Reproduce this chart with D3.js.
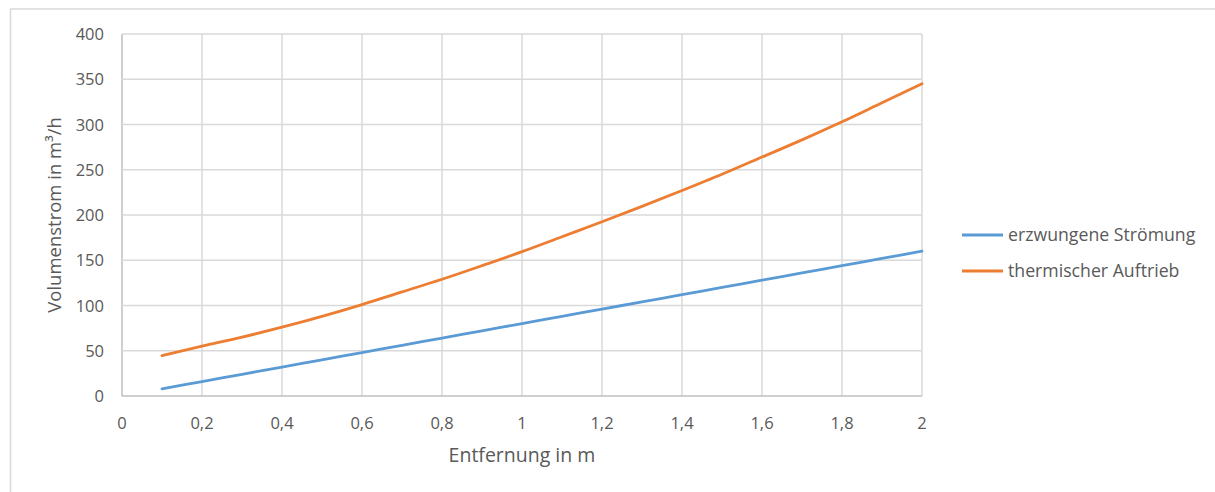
<!DOCTYPE html>
<html><head><meta charset="utf-8">
<script src="https://cdn.jsdelivr.net/npm/d3@7"></script>
<style>body{margin:0;background:#fff}svg{display:block}text{font-family:"Open Sans",Lato,sans-serif;fill:#595959}</style>
</head><body><svg id="c" width="1215" height="492"></svg>
<script>
const xValues = [0.1,0.2,0.3,0.4,0.5,0.6,0.7,0.8,0.9,1.0,1.1,1.2,1.3,1.4,1.5,1.6,1.7,1.8,1.9,2.0];
const forced = [8,16,24,32,40,48,56,64,72,80,88,96,104,112,120,128,136,144,152,160];
const thermal = [44.5,55,65,76,88,101,115,129,144,159.5,176,192.5,209.5,227,245,264,283,303,324,345];
const seriesNames = ["erzwungene Strömung","thermischer Auftrieb"];
const xTicks = [0,0.2,0.4,0.6,0.8,1,1.2,1.4,1.6,1.8,2];
const yTicks = [0,50,100,150,200,250,300,350,400];
const xTitle = "Entfernung in m";
const yTitle = "Volumenstrom in m³/h";
const colors = ["#5b9bd5","#ed7d31"];

const svg = d3.select("#c");
svg.append("rect").attr("x",10.5).attr("y",9).attr("width",1300).attr("height",600)
  .attr("fill","none").attr("stroke","#d9d9d9").attr("stroke-width",1.5);

const L=122,R=922,T=34,B=396;
const x = d3.scaleLinear().domain([0,2]).range([L,R]);
const y = d3.scaleLinear().domain([0,400]).range([B,T]);

const g = svg.append("g");
g.selectAll(".vg").data(xTicks).join("line").attr("x1",d=>x(d)).attr("x2",d=>x(d)).attr("y1",T).attr("y2",B)
  .attr("stroke",(d,i)=>i===0?"#bfbfbf":"#d9d9d9").attr("stroke-width",1.5);
g.selectAll(".hg").data(yTicks).join("line").attr("x1",L).attr("x2",R).attr("y1",d=>y(d)).attr("y2",d=>y(d))
  .attr("stroke",(d,i)=>i===0?"#bfbfbf":"#d9d9d9").attr("stroke-width",1.5);

const fmt = d=>String(+d.toFixed(1)).replace(".",",");
g.selectAll(".yt").data(yTicks).join("text").attr("x",L-18).attr("y",d=>y(d)+6)
  .attr("text-anchor","end").attr("font-size",16.5).text(d=>d);
g.selectAll(".xt").data(xTicks).join("text").attr("x",d=>x(d)).attr("y",B+33)
  .attr("text-anchor","middle").attr("font-size",16.5).text(fmt);

svg.append("text").attr("x",(L+R)/2).attr("y",462).attr("text-anchor","middle").attr("font-size",19.5).text(xTitle);
svg.append("text").attr("transform",`translate(61,${(T+B)/2}) rotate(-90)`).attr("text-anchor","middle").attr("font-size",18.5).text(yTitle);

const line = d3.line().x((d,i)=>x(xValues[i])).y(d=>y(d)).curve(d3.curveMonotoneX);
[forced,thermal].forEach((s,i)=>{
  svg.append("path").attr("d",line(s)).attr("fill","none").attr("stroke",colors[i]).attr("stroke-width",2.8).attr("stroke-linecap","round");
});

const lg = svg.append("g");
seriesNames.forEach((n,i)=>{
  const yy = 235 + i*36;
  lg.append("line").attr("x1",962).attr("x2",1003).attr("y1",yy).attr("y2",yy).attr("stroke",colors[i]).attr("stroke-width",2.8);
  lg.append("text").attr("x",1008).attr("y",yy+6).attr("font-size",17.7).text(n);
});
</script></body></html>
